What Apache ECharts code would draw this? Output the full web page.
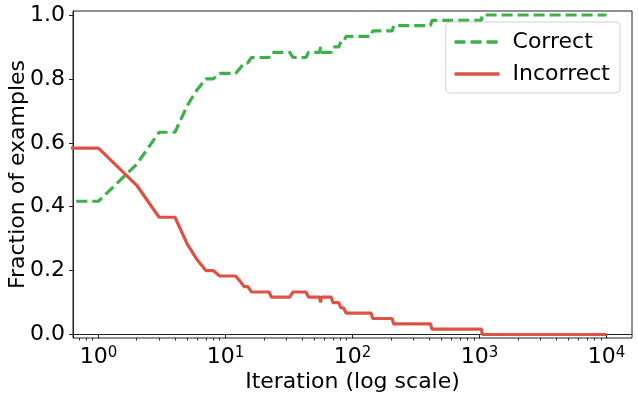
<!DOCTYPE html>
<html>
<head>
<meta charset="utf-8">
<script src="https://cdn.jsdelivr.net/npm/echarts@6/dist/echarts.min.js"></script>
<style>
  html, body { margin: 0; padding: 0; background: #fff; }
  #chart { width: 638px; height: 401px; }
</style>
</head>
<body>
<div id="chart"></div>
<script>
// iteration 0 is off the log axis, 0.5 stands in for it (clipped at the left edge)
const iterations = [0.5, 1, 2, 3, 4, 5, 6, 7, 8, 9, 12, 13, 14, 15, 16, 22, 23, 32, 34, 43, 45,
  55, 56, 57, 68, 70, 78, 81, 85, 89, 140, 144, 205, 211, 411, 421, 1033, 1050, 10000]
const correctFrac = [0.417, 0.417, 0.533, 0.633, 0.633, 0.717, 0.767, 0.8, 0.8, 0.817,
  0.817, 0.833, 0.85, 0.85, 0.867, 0.867, 0.883, 0.883, 0.867, 0.867, 0.883,
  0.883, 0.9, 0.883, 0.883, 0.9, 0.9, 0.917, 0.917, 0.933, 0.933, 0.95,
  0.95, 0.967, 0.967, 0.983, 0.983, 1, 1]
const incorrectFrac = [0.583, 0.583, 0.467, 0.367, 0.367, 0.283, 0.233, 0.2, 0.2, 0.183,
  0.183, 0.167, 0.15, 0.15, 0.133, 0.133, 0.117, 0.117, 0.133, 0.133, 0.117,
  0.117, 0.1, 0.117, 0.117, 0.1, 0.1, 0.083, 0.083, 0.067, 0.067, 0.05,
  0.05, 0.033, 0.033, 0.017, 0.017, 0, 0]

const xMajorTicks = [1, 10, 100, 1000, 10000]
const xMinorTicks = [0.7, 0.8, 0.9, 2, 3, 4, 5, 6, 7, 8, 9, 20, 30, 40, 50, 60, 70, 80, 90,
  200, 300, 400, 500, 600, 700, 800, 900, 2000, 3000, 4000, 5000, 6000, 7000, 8000, 9000]
const yTicks = [0, 0.2, 0.4, 0.6, 0.8, 1.0]

const FONT = 'DejaVu Sans'
const GREEN = '#3cb14a'
const RED = '#dc5346'

const chart = echarts.init(document.getElementById('chart'), null, {renderer: 'canvas'})

const pairs = vals => iterations.map((it, i) => [it, vals[i]])

const option = {
  animation: false,
  textStyle: {fontFamily: FONT},
  grid: {
    left: 73, right: 6, top: 11, bottom: 63,
    outerBoundsMode: 'none',
    containLabel: false,
    show: true, borderColor: '#222', borderWidth: 1
  },
  legend: {
    orient: 'vertical',
    right: 18,
    top: 22,
    itemWidth: 45,
    itemHeight: 14,
    itemGap: 10,
    padding: [9, 10, 8, 7],
    backgroundColor: 'rgba(255,255,255,0.8)',
    borderColor: '#d0d0d0',
    borderWidth: 1,
    borderRadius: 4,
    itemStyle: {opacity: 0},
    lineStyle: {width: 3.5},
    textStyle: {fontFamily: FONT, fontSize: 22, color: '#000', padding: [0, 0, 0, 8]},
    data: ['Correct', 'Incorrect']
  },
  xAxis: [{
    type: 'log',
    min: 0.63,
    max: 15849,
    name: 'Iteration (log scale)',
    nameLocation: 'middle',
    nameGap: 33,
    nameMoveOverlap: false,
    nameTextStyle: {fontFamily: FONT, fontSize: 22, color: '#000'},
    axisLine: {show: true, lineStyle: {color: '#222', width: 1}},
    axisTick: {show: true, customValues: xMajorTicks, length: 4, lineStyle: {color: '#222'}},
    axisLabel: {
      customValues: xMajorTicks,
      margin: 8,
      color: '#000',
      fontFamily: FONT,
      fontSize: 22,
      formatter: v => '10{s|' + Math.round(Math.log10(v)) + '}',
      rich: {s: {fontSize: 15, fontFamily: FONT, color: '#000', verticalAlign: 'top', padding: [0, 0, 8, 0]}}
    },
    splitLine: {show: false}
  }, {
    type: 'log',
    min: 0.63,
    max: 15849,
    position: 'bottom',
    axisLine: {show: false},
    axisTick: {show: true, customValues: xMinorTicks, length: 2.5, lineStyle: {color: '#222'}},
    axisLabel: {show: false},
    splitLine: {show: false}
  }],
  yAxis: {
    type: 'value',
    min: -0.011,
    max: 1.0125,
    name: 'Fraction of examples',
    nameLocation: 'middle',
    nameGap: 44,
    nameMoveOverlap: false,
    nameTextStyle: {fontFamily: FONT, fontSize: 22, color: '#000'},
    axisLine: {show: true, lineStyle: {color: '#222', width: 1}},
    axisTick: {show: true, customValues: yTicks, length: 4, lineStyle: {color: '#222'}},
    axisLabel: {
      customValues: yTicks,
      margin: 8,
      color: '#000',
      fontFamily: FONT,
      fontSize: 22,
      formatter: v => v.toFixed(1)
    },
    splitLine: {show: false}
  },
  series: [{
    name: 'Correct',
    type: 'line',
    xAxisIndex: 0,
    data: pairs(correctFrac),
    symbol: 'none',
    color: GREEN,
    lineStyle: {color: GREEN, width: 3.2, type: [11, 5]}
  }, {
    name: 'Incorrect',
    type: 'line',
    xAxisIndex: 0,
    data: pairs(incorrectFrac),
    symbol: 'none',
    color: RED,
    lineStyle: {color: RED, width: 3.2}
  }]
}

chart.setOption(option)
</script>
</body>
</html>
